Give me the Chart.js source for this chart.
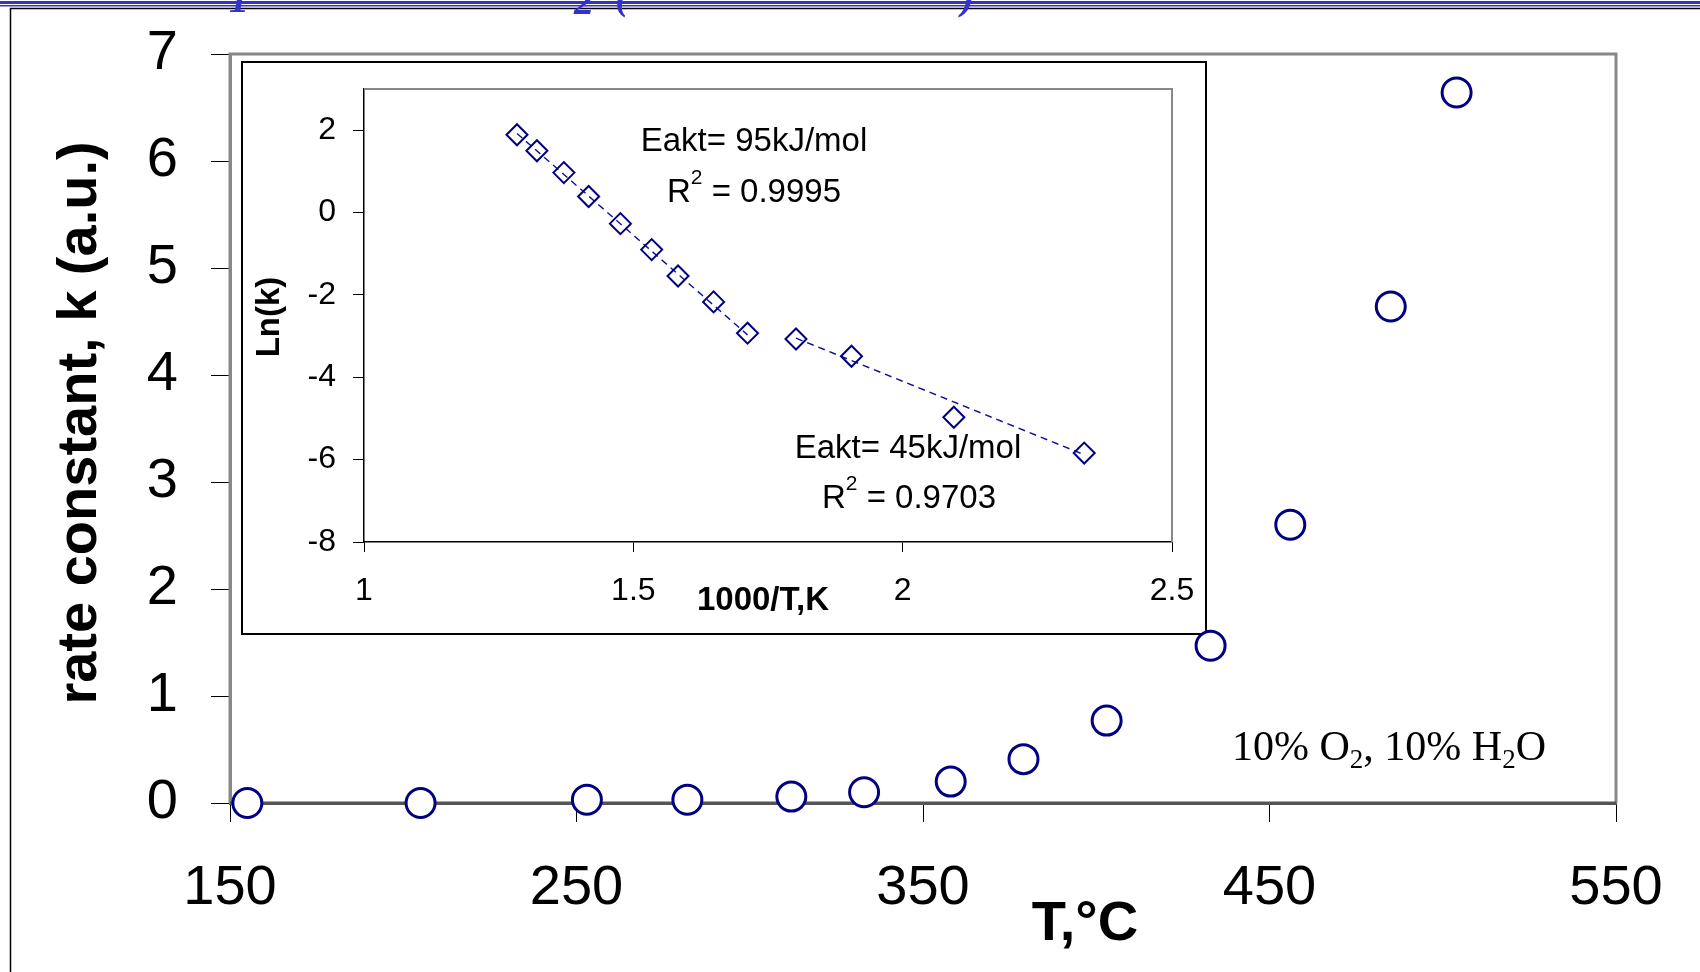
<!DOCTYPE html>
<html>
<head>
<meta charset="utf-8">
<script src="https://cdn.jsdelivr.net/npm/chart.js@4.4.0/dist/chart.umd.min.js"></script>
<style>
  html, body { margin: 0; padding: 0; background: #fff; }
  #wrap { position: relative; width: 1700px; height: 972px; overflow: hidden; background: #fff; }
  #mainChart { position: absolute; left: 0; top: 0; z-index: 2; }
  #insetBox { position: absolute; left: 241px; top: 61px; width: 962px; height: 570px;
              border: 2px solid #000; background: #fff; z-index: 1; }
  #insetChart { display: block; }
</style>
</head>
<body>
<div id="wrap">
  <div id="insetBox"><canvas id="insetChart" width="962" height="570"></canvas></div>
  <canvas id="mainChart" width="1700" height="972"></canvas>
</div>
<script>
// rate constant vs temperature
const tempC = [155, 205, 253, 282, 312, 333, 358, 379, 403, 433, 456, 485, 504];
const rateK = [0.00, 0.00, 0.03, 0.03, 0.06, 0.10, 0.20, 0.41, 0.77, 1.47, 2.60, 4.64, 6.64];
const tempTicks = [150, 250, 350, 450, 550];
const rateTicks = [0, 1, 2, 3, 4, 5, 6, 7];

// inset: Arrhenius plot
const invT = [1.284, 1.321, 1.371, 1.417, 1.476, 1.534, 1.583, 1.649, 1.712, 1.802, 1.905, 2.095, 2.337];
const lnK = [1.89, 1.50, 0.97, 0.39, -0.27, -0.90, -1.54, -2.17, -2.93, -3.07, -3.49, -4.97, -5.84];
const fitHighX = [1.284, 1.712];
const fitHighY = [1.92, -2.97];
const fitLowX = [1.802, 2.337];
const fitLowY = [-3.05, -5.88];
const invTTicks = [1, 1.5, 2, 2.5];
const lnKTicks = [-8, -6, -4, -2, 0, 2];

const SANS = '"Liberation Sans", Arial, sans-serif';
const SERIF = '"Liberation Serif", "Times New Roman", serif';
const NAVY = '#000080';

// draws a line of text made of runs (normal / sub / sup)
function drawRuns(ctx, x, y, runs, size, family, weight, align) {
  const fontFor = r => (weight || '') + ' ' + (r.sub || r.sup ? Math.round(size * 0.65) : size) + 'px ' + family;
  let total = 0;
  runs.forEach(r => { ctx.font = fontFor(r); total += ctx.measureText(r.t).width; });
  if (align === 'center') x -= total / 2;
  ctx.textAlign = 'left';
  ctx.textBaseline = 'alphabetic';
  runs.forEach(r => {
    ctx.font = fontFor(r);
    let dy = 0;
    if (r.sub) dy = size * 0.2;
    if (r.sup) dy = -size * 0.55;
    ctx.fillText(r.t, x, y + dy);
    x += ctx.measureText(r.t).width;
  });
}

const pts = (xs, ys) => xs.map((v, i) => ({ x: v, y: ys[i] }));

// keep the plot area where the layout padding puts it
function fixWidth(w) {
  return s => { s.width = w; s.paddingTop = 0; s.paddingBottom = 0; };
}
function fixHeight(h) {
  return s => { s.height = h; s.paddingLeft = 0; s.paddingRight = 0; };
}

const mainDecor = {
  id: 'mainDecor',
  beforeDatasetsDraw(chart) {
    const { ctx, chartArea: a } = chart;
    ctx.save();
    ctx.strokeStyle = '#888';
    ctx.lineWidth = 3;
    ctx.beginPath();
    ctx.moveTo(a.left, a.bottom);
    ctx.lineTo(a.left, a.top);
    ctx.lineTo(a.right, a.top);
    ctx.lineTo(a.right, a.bottom);
    ctx.stroke();
    ctx.strokeStyle = '#555';
    ctx.beginPath();
    ctx.moveTo(a.left, a.bottom);
    ctx.lineTo(a.right, a.bottom);
    ctx.stroke();
    ctx.restore();
  },
  afterDraw(chart) {
    const ctx = chart.ctx;
    ctx.save();
    // page border and blue band at the top
    ctx.fillStyle = '#3333cc';
    ctx.fillRect(0, 1, 1700, 3);
    ctx.fillRect(0, 5, 1700, 1.5);
    ctx.strokeStyle = '#000';
    ctx.lineWidth = 1.5;
    ctx.beginPath();
    ctx.moveTo(10.5, 972);
    ctx.lineTo(10.5, 8.5);
    ctx.lineTo(1700, 8.5);
    ctx.stroke();
    ctx.fillStyle = '#3333cc';
    ctx.font = 'italic bold 40px ' + SERIF;
    ctx.textAlign = 'center';
    ctx.textBaseline = 'alphabetic';
    ctx.fillText('1', 239, 12);
    ctx.fillText('2', 584, 14);
    ctx.fillText('(', 622, 9);
    ctx.fillText(')', 968, 9);

    // axis titles
    ctx.fillStyle = '#000';
    ctx.font = 'bold 56px ' + SANS;
    ctx.textAlign = 'center';
    ctx.fillText('T,°C', 1085, 940);
    ctx.save();
    ctx.translate(81, 423);
    ctx.rotate(-Math.PI / 2);
    ctx.textBaseline = 'middle';
    ctx.fillText('rate constant, k (a.u.)', 0, 0);
    ctx.restore();

    drawRuns(ctx, 1232, 760, [
      { t: '10% O' }, { t: '2', sub: true }, { t: ', 10% H' }, { t: '2', sub: true }, { t: 'O' }
    ], 42, SERIF, '', 'left');
    ctx.restore();
  }
};

new Chart(document.getElementById('mainChart'), {
  type: 'scatter',
  data: {
    datasets: [{
      data: pts(tempC, rateK),
      pointStyle: 'circle',
      pointRadius: 14.5,
      pointHoverRadius: 14.5,
      borderWidth: 3,
      borderColor: NAVY,
      backgroundColor: '#fff',
      clip: false
    }]
  },
  options: {
    responsive: false,
    animation: false,
    devicePixelRatio: 1,
    layout: { padding: { top: 54, right: 84, left: 0, bottom: 0 } },
    plugins: { legend: { display: false }, tooltip: { enabled: false } },
    scales: {
      x: {
        type: 'linear', min: 150, max: 550,
        afterBuildTicks: s => { s.ticks = tempTicks.map(v => ({ value: v })); },
        afterFit: fixHeight(169),
        grid: { drawOnChartArea: false, drawTicks: true, tickLength: 19, color: '#000', lineWidth: 1 },
        border: { display: true, color: '#555', width: 3 },
        ticks: { color: '#000', font: { family: SANS, size: 56 }, padding: 33, maxRotation: 0 }
      },
      y: {
        type: 'linear', min: 0, max: 7,
        afterBuildTicks: s => { s.ticks = rateTicks.map(v => ({ value: v })); },
        afterFit: fixWidth(230),
        grid: { drawOnChartArea: false, drawTicks: true, tickLength: 19, color: '#000', lineWidth: 1 },
        border: { display: true, color: '#888', width: 3 },
        ticks: { color: '#000', font: { family: SANS, size: 56 }, padding: 33 }
      }
    }
  },
  plugins: [mainDecor]
});

const insetDecor = {
  id: 'insetDecor',
  beforeDatasetsDraw(chart) {
    const { ctx, chartArea: a } = chart;
    ctx.save();
    ctx.strokeStyle = '#888';
    ctx.lineWidth = 2;
    ctx.beginPath();
    ctx.moveTo(a.left, a.top);
    ctx.lineTo(a.right, a.top);
    ctx.lineTo(a.right, a.bottom);
    ctx.stroke();
    ctx.restore();
  },
  afterDraw(chart) {
    const ctx = chart.ctx;
    ctx.save();
    ctx.fillStyle = '#000';
    drawRuns(ctx, 511, 88, [{ t: 'Eakt= 95kJ/mol' }], 33, SANS, '', 'center');
    drawRuns(ctx, 511, 139, [{ t: 'R' }, { t: '2', sup: true }, { t: ' = 0.9995' }], 33, SANS, '', 'center');
    drawRuns(ctx, 665, 395, [{ t: 'Eakt= 45kJ/mol' }], 33, SANS, '', 'center');
    drawRuns(ctx, 666, 445, [{ t: 'R' }, { t: '2', sup: true }, { t: ' = 0.9703' }], 33, SANS, '', 'center');
    drawRuns(ctx, 520, 547, [{ t: '1000/T,K' }], 33, SANS, 'bold', 'center');
    ctx.save();
    ctx.translate(27, 254);
    ctx.rotate(-Math.PI / 2);
    ctx.font = 'bold 33px ' + SANS;
    ctx.textAlign = 'center';
    ctx.textBaseline = 'middle';
    ctx.fillText('Ln(k)', 0, 0);
    ctx.restore();
    ctx.restore();
  }
};

const fitStyle = {
  showLine: true,
  borderColor: '#10109a',
  borderWidth: 1.4,
  borderDash: [7, 5],
  pointRadius: 0,
  pointHoverRadius: 0,
  fill: false
};

new Chart(document.getElementById('insetChart'), {
  type: 'scatter',
  data: {
    datasets: [
      Object.assign({ data: pts(fitHighX, fitHighY), order: 2 }, fitStyle),
      Object.assign({ data: pts(fitLowX, fitLowY), order: 2 }, fitStyle),
      {
        data: pts(invT, lnK),
        order: 1,
        pointStyle: 'rectRot',
        pointRadius: 10.5,
        pointHoverRadius: 10.5,
        borderWidth: 2,
        borderColor: NAVY,
        backgroundColor: 'rgba(0,0,0,0)',
        clip: false
      }
    ]
  },
  options: {
    responsive: false,
    animation: false,
    devicePixelRatio: 1,
    layout: { padding: { top: 26, right: 33, left: 0, bottom: 0 } },
    plugins: { legend: { display: false }, tooltip: { enabled: false } },
    scales: {
      x: {
        type: 'linear', min: 1, max: 2.5,
        afterBuildTicks: s => { s.ticks = invTTicks.map(v => ({ value: v })); },
        afterFit: fixHeight(91),
        grid: { drawOnChartArea: false, drawTicks: true, tickLength: 10, color: '#000', lineWidth: 1 },
        border: { display: true, color: '#000', width: 1.5 },
        ticks: { color: '#000', font: { family: SANS, size: 32 }, padding: 20, maxRotation: 0,
                 callback: v => String(v) }
      },
      y: {
        type: 'linear', min: -8, max: 3,
        afterBuildTicks: s => { s.ticks = lnKTicks.map(v => ({ value: v })); },
        afterFit: fixWidth(121),
        grid: { drawOnChartArea: false, drawTicks: true, tickLength: 11, color: '#000', lineWidth: 1 },
        border: { display: true, color: '#000', width: 1.5 },
        ticks: { color: '#000', font: { family: SANS, size: 32 }, padding: 17,
                 callback: v => String(v) }
      }
    }
  },
  plugins: [insetDecor]
});
</script>
</body>
</html>
